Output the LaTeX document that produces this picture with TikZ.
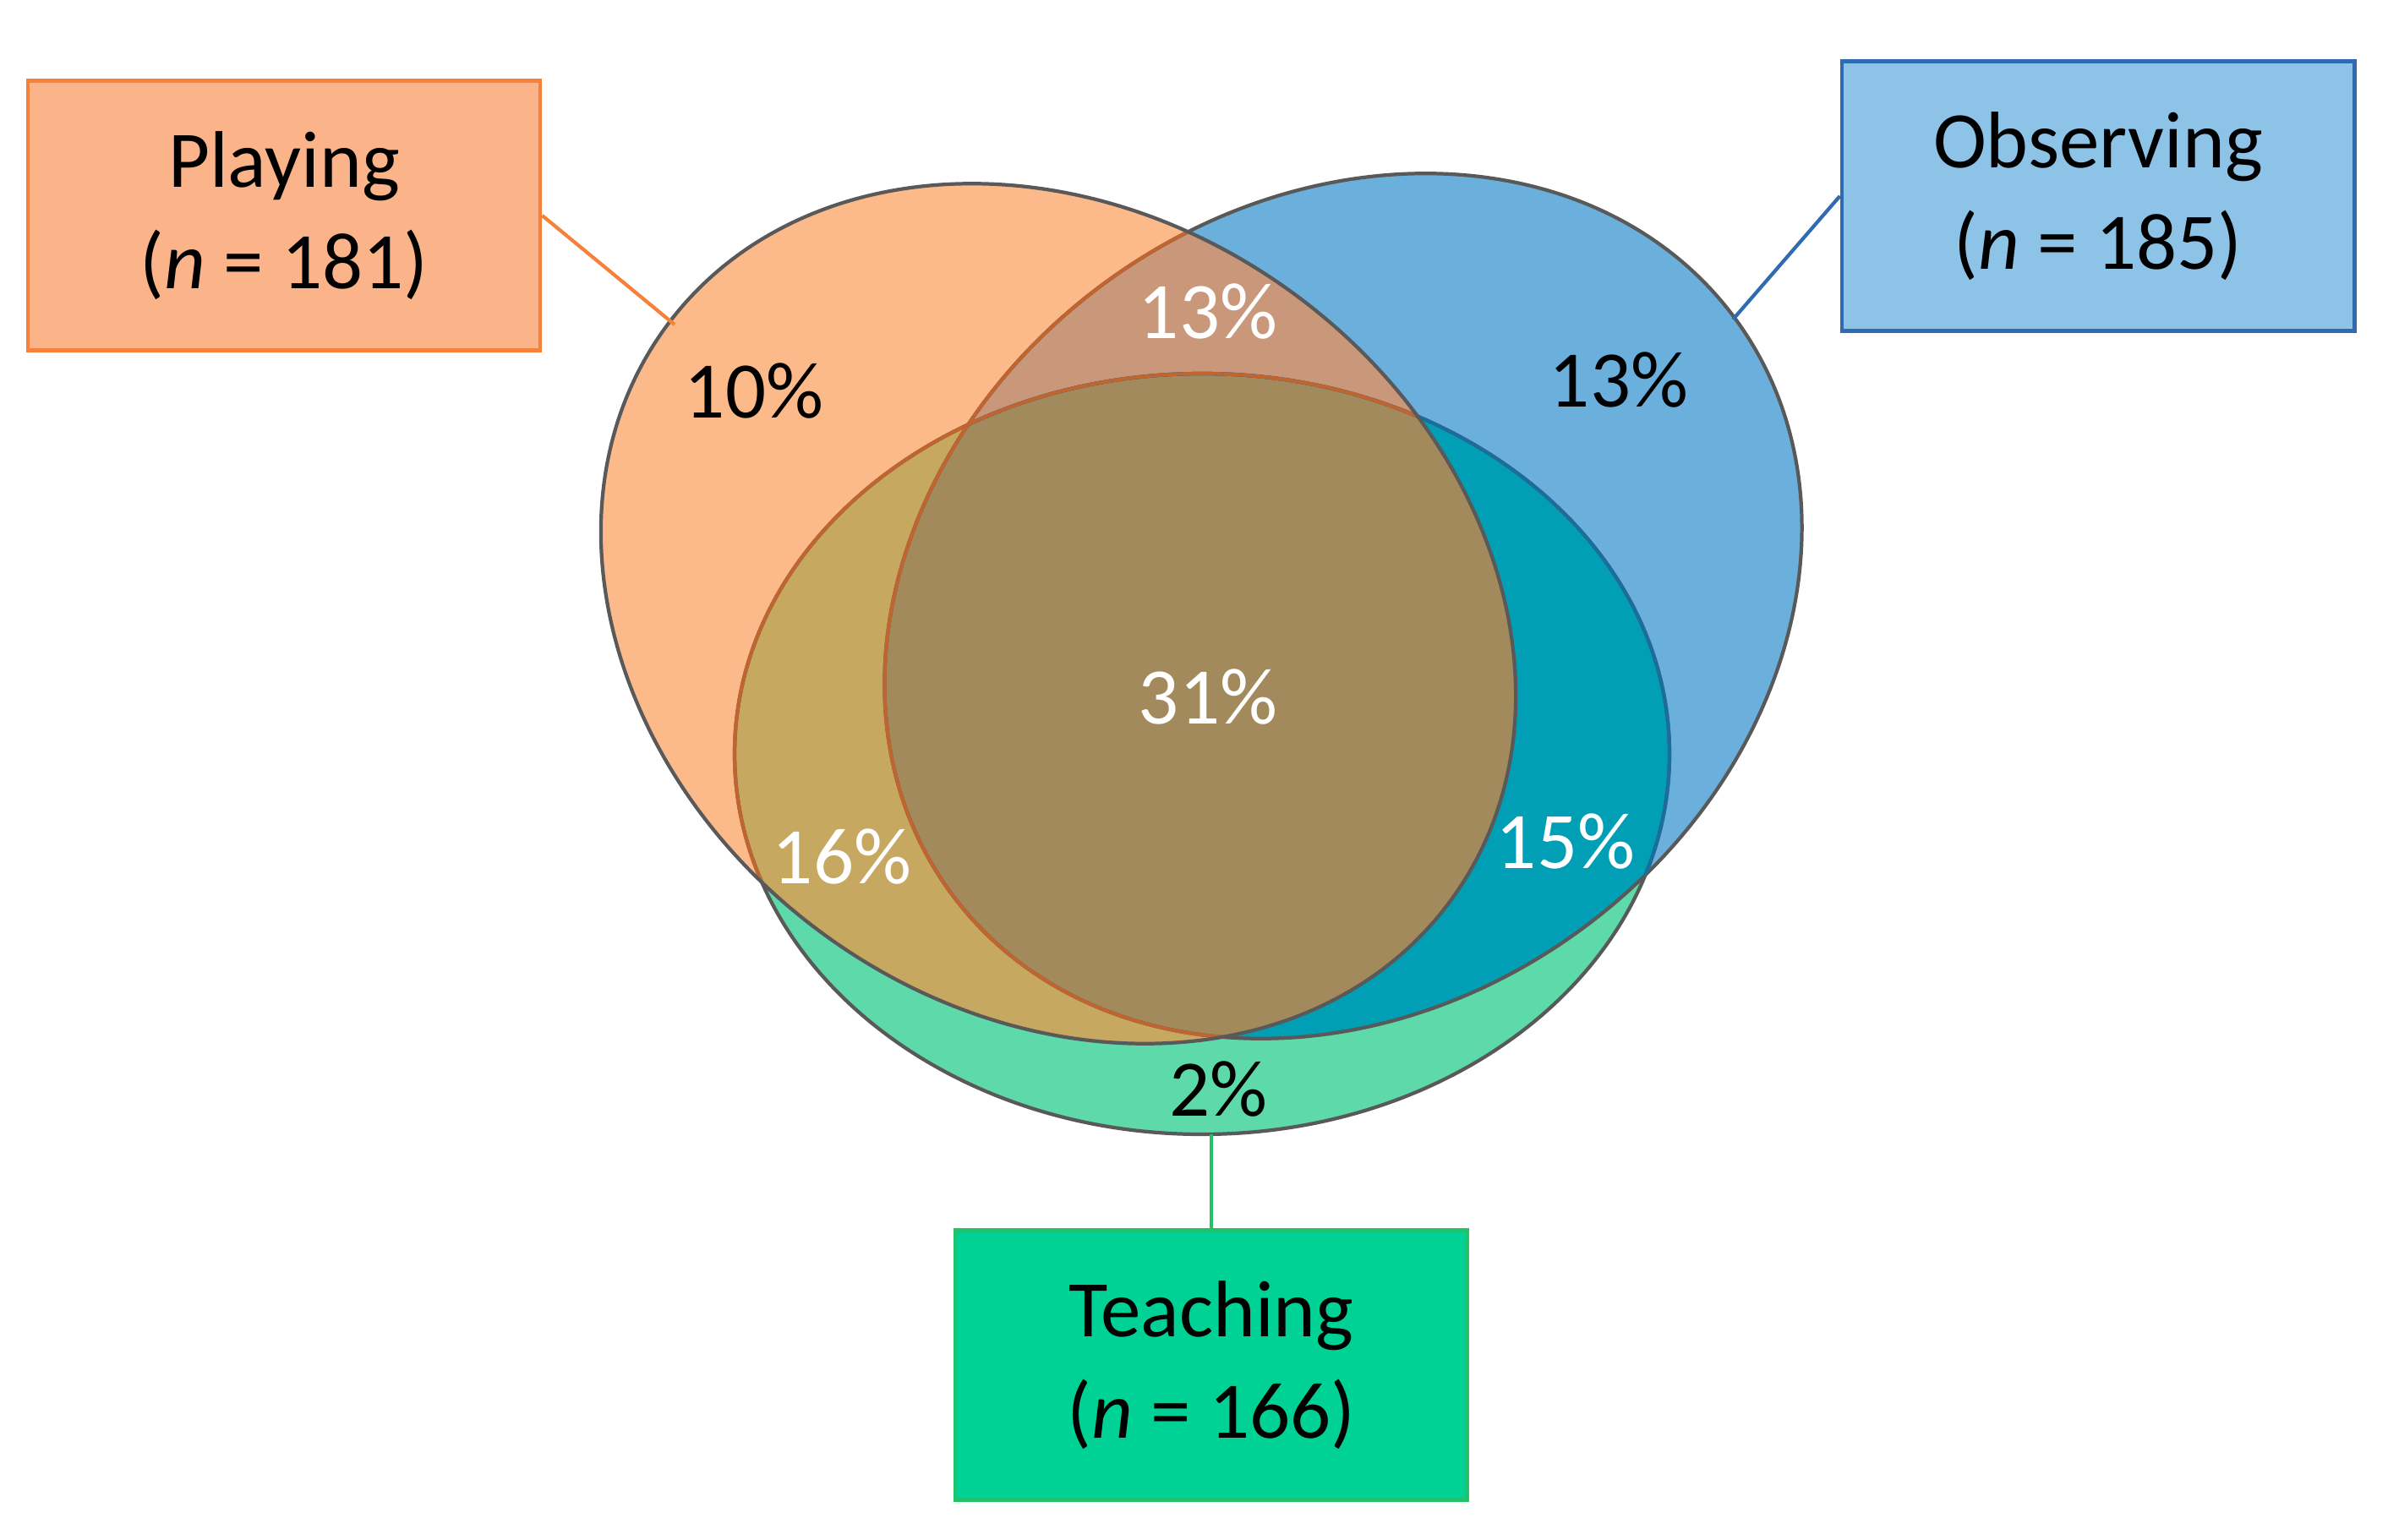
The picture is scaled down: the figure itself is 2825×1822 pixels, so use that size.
\documentclass[tikz,border=0pt]{standalone}
\usepackage{fontspec}
\setmainfont{Carlito}
\definecolor{cPeach}{HTML}{FCBA8B}
\definecolor{cBlue}{HTML}{6BB0DD}
\definecolor{cGreen}{HTML}{5ED9A9}
\definecolor{cLens}{HTML}{C9977A}
\definecolor{cGold}{HTML}{C6A860}
\definecolor{cTeal}{HTML}{009FB5}
\definecolor{cCenter}{HTML}{A38A5D}
\definecolor{cGray}{HTML}{595959}
\definecolor{cBrown}{HTML}{C0652F}
\definecolor{cDBlue}{HTML}{1A6E9E}
\definecolor{bPlayF}{HTML}{FBB48A}
\definecolor{bPlayD}{HTML}{F5813A}
\definecolor{bObsF}{HTML}{8EC3E8}
\definecolor{bObsD}{HTML}{2E6BB0}
\definecolor{bTeaF}{HTML}{00D296}
\definecolor{bTeaD}{HTML}{22C26A}
\newcommand\EllO{(1252,-726) ellipse [x radius=575, y radius=470]}
\newcommand\EllB{(1589,-717) ellipse [x radius=575, y radius=475]}
\newcommand\EllG{(1422,-892) ellipse [x radius=553, y radius=450]}
\begin{document}
\begin{tikzpicture}[x=0.01cm,y=0.01cm,
  tO/.style={rotate around={-36:(1252,-726)}},
  tB/.style={rotate around={36:(1589,-717)}},
  edge/.style={line width=1.2pt},
  box/.style={minimum width=6.06cm, minimum height=3.19cm, inner sep=0pt, align=center, line width=1.3pt, font=\fontsize{27}{34}\selectfont},
  pct/.style={font=\fontsize{27}{32}\selectfont, inner sep=0pt},
  conn/.style={line width=1.2pt}]
\useasboundingbox (0,0) rectangle (2825,-1822);
% fills
\fill[cPeach,tO] \EllO;
\fill[cBlue,tB] \EllB;
\fill[cGreen] \EllG;
\begin{scope}
  \clip[tO] \EllO;
  \fill[cLens,tB] \EllB;
  \fill[cGold] \EllG;
\end{scope}
\begin{scope}
  \clip[tB] \EllB;
  \fill[cTeal] \EllG;
\end{scope}
\begin{scope}
  \clip[tO] \EllO;
  \clip[tB] \EllB;
  \fill[cCenter] \EllG;
\end{scope}
% outlines
\draw[edge,cGray] \EllG;
\draw[edge,cGray,tB] \EllB;
\begin{scope}
  \clip[tB] \EllB;
  \draw[edge,cDBlue] \EllG;
\end{scope}
\begin{scope}
  \clip[tO] \EllO;
  \draw[edge,cBrown] \EllG;
  \draw[edge,cBrown,tB] \EllB;
\end{scope}
\draw[edge,cGray,tO] \EllO;
% labels
\node[pct] (l10) at (892,-463) {10\%};
\node[pct,white] (l13a) at (1429,-369) {13\%};
\node[pct] (l13b) at (1915,-450) {13\%};
\node[pct,white] (l31) at (1429,-825) {31\%};
\node[pct,white] (l16) at (996,-1014) {16\%};
\node[pct,white] (l15) at (1852,-996) {15\%};
\node[pct] (l2) at (1441,-1288) {2\%};
% boxes
\node[box, fill=bPlayF, draw=bPlayD] (play) at (336,-255) {Playing\\(\textit{n} = 181)};
\node[box, fill=bObsF, draw=bObsD] (obs) at (2482,-232) {Observing\\(\textit{n} = 185)};
\node[box, fill=bTeaF, draw=bTeaD] (teach) at (1433,-1615) {Teaching\\(\textit{n} = 166)};
% connectors
\coordinate (pE) at (798,-384);
\coordinate (oE) at (2050,-378);
\coordinate (tE) at (1433,-1342);
\draw[conn,bPlayD] (play.east) -- (pE);
\draw[conn,bObsD] (obs.west) -- (oE);
\draw[conn,bTeaD] (tE) -- (teach.north);
\end{tikzpicture}
\end{document}
